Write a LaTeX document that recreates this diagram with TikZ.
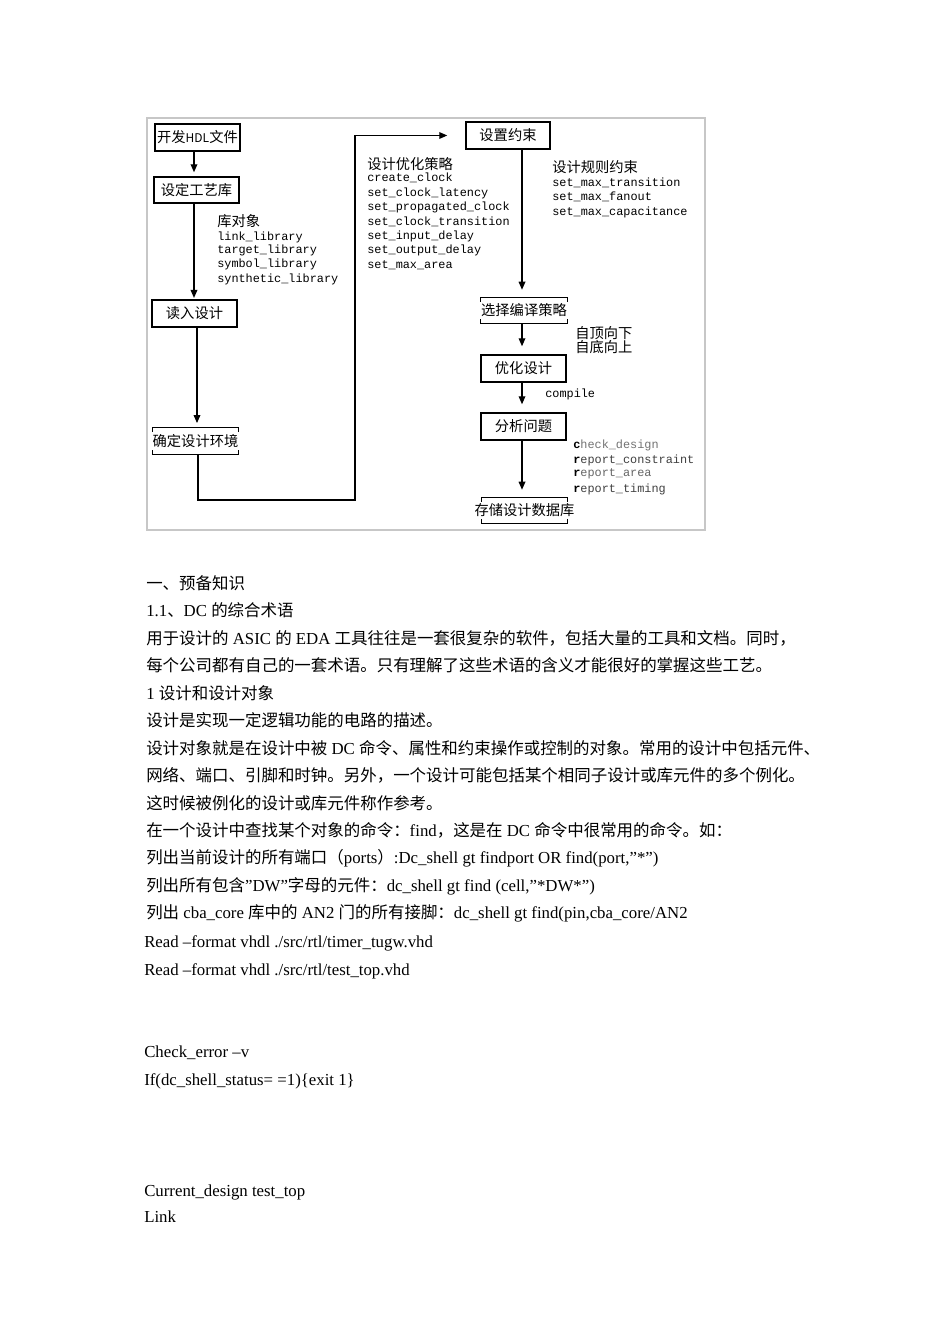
\documentclass[tikz,border=0pt]{standalone}
\usepackage{fontspec}
\setmainfont{Liberation Serif}
\newfontfamily\cjk{Noto Sans CJK SC}
\newfontfamily\monof{Liberation Mono}
\usetikzlibrary{arrows.meta,calc}
\newcommand\zh[1]{{\cjk\fontsize{12.35}{14}\selectfont #1}}
\newcommand\brk[1]{%
  \draw[line width=1.1pt] ($(#1.north west)+(0,4)$) -- (#1.north west) -- (#1.north east) -- ($(#1.north east)+(0,4)$);
  \draw[line width=1.1pt] ($(#1.south west)+(0,-4)$) -- (#1.south west) -- (#1.south east) -- ($(#1.south east)+(0,-4)$);}
\begin{document}
\begin{tikzpicture}[x=0.75pt,y=-0.75pt,
  box/.style={draw, line width=1.1pt, inner sep=0pt, font=\cjk\fontsize{10.7}{12}\selectfont},
  brknode/.style={inner sep=0pt, font=\cjk\fontsize{10.7}{12}\selectfont},
  arr/.style={line width=0.9pt, -{Triangle[length=6pt,width=5pt]}},
  cmd/.style={anchor=west, inner sep=0pt, font=\monof\fontsize{8.9}{10}\selectfont},
  lbl/.style={anchor=west, inner sep=0pt, font=\cjk\fontsize{10.7}{12}\selectfont},
  body/.style={anchor=base west, inner sep=0pt, font=\fontsize{12.6}{14}\selectfont},
  frame/.style={draw=black!22, line width=1pt}
]
\useasboundingbox (0,0) rectangle (950,1344);
\fill[white] (0,0) rectangle (950,1344);

% frame of the flowchart picture
\draw[frame] (147,118) rectangle (705,530);

% left column
\node[box, minimum width=63.75pt, minimum height=20.25pt] (A) at (197.5,137.5) {开发{\fontsize{9}{10}\selectfont HDL}文件};
\node[box, minimum width=63.75pt, minimum height=19.5pt] (B) at (196.5,190) {设定工艺库};
\node[box, minimum width=63.75pt, minimum height=20.25pt] (C) at (194.5,313.5) {读入设计};
\node[brknode, minimum width=63.75pt, minimum height=19.5pt] (D) at (195.5,441) {\makebox[0pt]{确定设计环境}};
\brk{D}

% right column
\node[box, minimum width=63pt, minimum height=20.25pt] (E) at (508,135.5) {设置约束};
\node[brknode, minimum width=64.5pt, minimum height=18.75pt] (F) at (524,310.5) {\makebox[0pt]{选择编译策略}};
\brk{F}
\node[box, minimum width=63.75pt, minimum height=20.25pt] (G) at (523.5,368.5) {优化设计};
\node[box, minimum width=63.75pt, minimum height=20.25pt] (H) at (523.5,426.5) {分析问题};
\node[brknode, minimum width=63.75pt, minimum height=18.75pt] (I) at (524.5,510.5) {\makebox[0pt]{存储设计数据库}};
\brk{I}

% connector x positions
\coordinate (xl1) at (194,0);
\coordinate (xl2) at (197,0);
\coordinate (xl3) at (198,0);
\coordinate (xr) at (522,0);
\coordinate (L1) at (355,500);

\draw[arr, shorten >=3pt] (A.south -| xl1) -- (B.north -| xl1);
\draw[arr, shorten >=1pt] (B.south -| xl1) -- (C.north -| xl1);
\draw[arr, shorten >=3.5pt] (C.south -| xl2) -- (D.north -| xl2);
\draw[arr, shorten >=13.5pt] (D.south -| xl3) |- (L1) |- (E.west);
\draw[arr, shorten >=6pt] (E.south -| xr) -- (F.north -| xr);
\draw[arr, shorten >=6pt] (F.south -| xr) -- (G.north -| xr);
\draw[arr, shorten >=6pt] (G.south -| xr) -- (H.north -| xr);
\draw[arr, shorten >=6pt] (H.south -| xr) -- (I.north -| xr);

% labels
\node[lbl] (lib) at (217,221) {库对象};
\node[cmd] (lib1) at (217,237) {link\_library};
\node[cmd] (lib2) at (217,250.5) {target\_library};
\node[cmd] (lib3) at (217,264.5) {symbol\_library};
\node[cmd] (lib4) at (217,279) {synthetic\_library};

\node[lbl] (opt) at (367,164) {设计优化策略};
\node[cmd] (opt1) at (367,178) {create\_clock};
\node[cmd] (opt2) at (367,193) {set\_clock\_latency};
\node[cmd] (opt3) at (367,207.5) {set\_propagated\_clock};
\node[cmd] (opt4) at (367,222) {set\_clock\_transition};
\node[cmd] (opt5) at (367,236) {set\_input\_delay};
\node[cmd] (opt6) at (367,250.5) {set\_output\_delay};
\node[cmd] (opt7) at (367,265) {set\_max\_area};

\node[lbl] (rule) at (552,167) {设计规则约束};
\node[cmd] (rule1) at (552,183) {set\_max\_transition};
\node[cmd] (rule2) at (552,197) {set\_max\_fanout};
\node[cmd] (rule3) at (552,212) {set\_max\_capacitance};

\node[lbl] (td1) at (575,333) {自顶向下};
\node[lbl] (td2) at (575,347) {自底向上};

\node[cmd] (comp) at (545,394) {compile};

\node[cmd] (rep1) at (573,445) {{\bfseries c}\textcolor{black!55}{heck\_design}};
\node[cmd] (rep2) at (573,460) {{\bfseries r}\textcolor{black!75}{eport\_constraint}};
\node[cmd] (rep3) at (573,474) {{\bfseries r}\textcolor{black!60}{eport\_area}};
\node[cmd] (rep4) at (573,489) {{\bfseries r}\textcolor{black!75}{eport\_timing}};

% body text
\node[body] (t1) at (146,589.3) {\zh{一、预备知识}};
\node[body] (t2) at (146,616.7) {1.1\zh{、}DC \zh{的综合术语}};
\node[body] (t3) at (146,644) {\zh{用于设计的} ASIC \zh{的} EDA \zh{工具往往是一套很复杂的软件，包括大量的工具和文档。同时，}};
\node[body] (t4) at (146,671.5) {\zh{每个公司都有自己的一套术语。只有理解了这些术语的含义才能很好的掌握这些工艺。}};
\node[body] (t5) at (146,699) {1 \zh{设计和设计对象}};
\node[body] (t6) at (146,726.5) {\zh{设计是实现一定逻辑功能的电路的描述。}};
\node[body] (t7) at (146,754) {\zh{设计对象就是在设计中被} DC \zh{命令、属性和约束操作或控制的对象。常用的设计中包括元件、}};
\node[body] (t8) at (146,781.5) {\zh{网络、端口、引脚和时钟。另外，一个设计可能包括某个相同子设计或库元件的多个例化。}};
\node[body] (t9) at (146,809) {\zh{这时候被例化的设计或库元件称作参考。}};
\node[body] (t10) at (146,836) {\zh{在一个设计中查找某个对象的命令：}find\zh{，这是在} DC \zh{命令中很常用的命令。如：}};
\node[body] (t11) at (146,863.5) {\zh{列出当前设计的所有端口（}ports\zh{）}:Dc\_shell gt findport OR find(port,”*”)};
\node[body] (t12) at (146,891) {\zh{列出所有包含}”DW”\zh{字母的元件：}dc\_shell gt find (cell,”*DW*”)};
\node[body] (t13) at (146,918.5) {\zh{列出} cba\_core \zh{库中的} AN2 \zh{门的所有接脚：}dc\_shell gt find(pin,cba\_core/AN2};
\node[body] (t14) at (144,947.5) {Read –format vhdl ./src/rtl/timer\_tugw.vhd};
\node[body] (t15) at (144,975) {Read –format vhdl ./src/rtl/test\_top.vhd};
\node[body] (t16) at (144,1057.5) {Check\_error –v};
\node[body] (t17) at (144,1085) {If(dc\_shell\_status= =1)\{exit 1\}};
\node[body] (t18) at (144,1196) {Current\_design test\_top};
\node[body] (t19) at (144,1222.5) {Link};
\end{tikzpicture}
\end{document}
